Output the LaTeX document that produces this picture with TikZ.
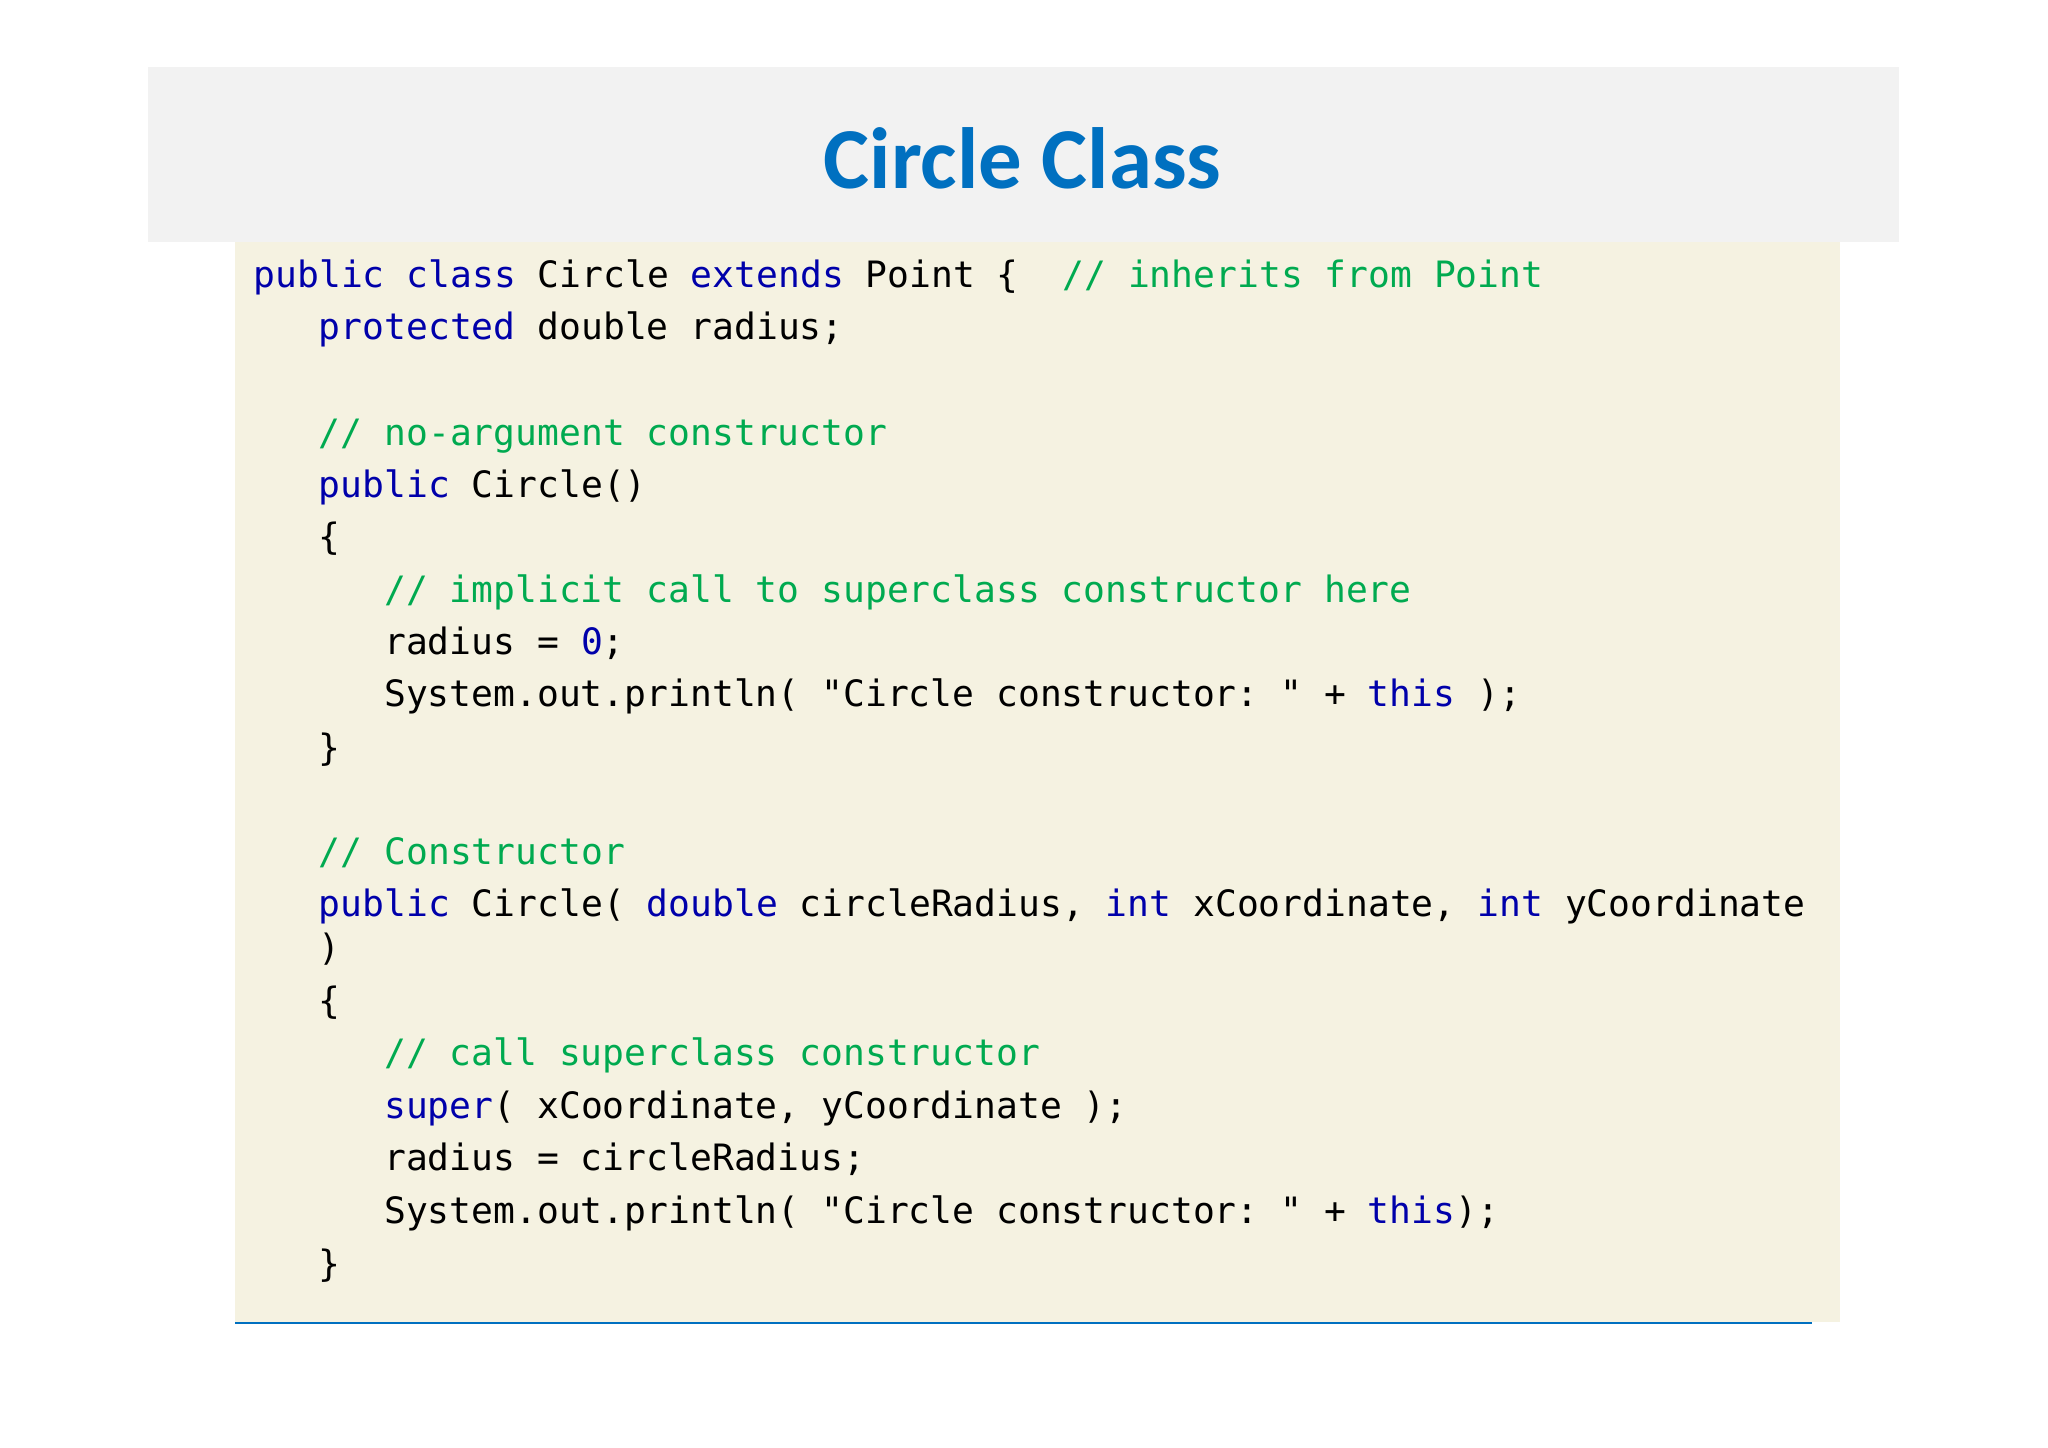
\documentclass[tikz,border=0pt]{standalone}
\usepackage{fontspec}
\setmainfont{Carlito}
\setmonofont{DejaVu Sans Mono}
\definecolor{kwblue}{RGB}{0,0,170}
\definecolor{cmgreen}{RGB}{0,170,80}
\definecolor{titleblue}{RGB}{0,112,192}
\definecolor{codebg}{RGB}{245,242,225}
\definecolor{bandgray}{RGB}{242,242,242}
\newcommand\kw[1]{\textcolor{kwblue}{#1}}
\newcommand\cm[1]{\textcolor{cmgreen}{#1}}
\tikzset{codeline/.style={anchor=base west,inner sep=0pt,font=\fontsize{27.8}{30}\ttfamily}}
\begin{document}
\begin{tikzpicture}[x=1pt,y=-1pt]
\useasboundingbox (0,0) rectangle (1568,1108);
\fill[white] (0,0) rectangle (1568,1108);
\fill[bandgray] (113,51) rectangle (1454,185);
\fill[codebg] (180,185) rectangle (1409,1012);
\draw[titleblue,line width=1.5pt] (180,1013) -- (1387,1013);
\node[inner sep=0pt,font=\fontsize{66.5}{72}\bfseries,text=titleblue] (title) at (783,121) {Circle Class};
\node[codeline] (l1) at (194,220) {\kw{public class} Circle \kw{extends} Point \{\ \ \cm{// inherits from Point}};
\node[codeline] (l2) at (244,260) {\kw{protected} double radius;};
\node[codeline] (l3) at (244,341) {\cm{// no-argument constructor}};
\node[codeline] (l4) at (244,381) {\kw{public} Circle()};
\node[codeline] (l5) at (244,421) {\{};
\node[codeline] (l6) at (294,461) {\cm{// implicit call to superclass constructor here}};
\node[codeline] (l7) at (294,501) {radius = \kw{0};};
\node[codeline] (l8) at (294,541) {System.out.println( "Circle constructor: " + \kw{this} );};
\node[codeline] (l9) at (244,582) {\}};
\node[codeline] (l10) at (244,662) {\cm{// Constructor}};
\node[codeline] (l11) at (244,702) {\kw{public} Circle( \kw{double} circleRadius, \kw{int} xCoordinate, \kw{int} yCoordinate};
\node[codeline] (l12) at (244,735) {)};
\node[codeline] (l13) at (244,776) {\{};
\node[codeline] (l14) at (294,816) {\cm{// call superclass constructor}};
\node[codeline] (l15) at (294,856) {\kw{super}( xCoordinate, yCoordinate );};
\node[codeline] (l16) at (294,896) {radius = circleRadius;};
\node[codeline] (l17) at (294,937) {System.out.println( "Circle constructor: " + \kw{this});};
\node[codeline] (l18) at (244,977) {\}};
\end{tikzpicture}
\end{document}
